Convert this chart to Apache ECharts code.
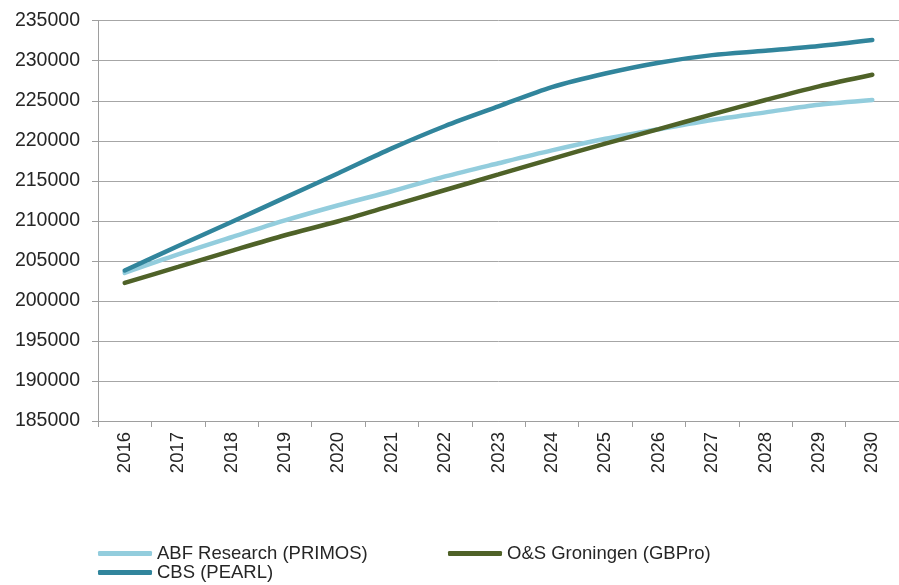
<!DOCTYPE html>
<html>
<head>
<meta charset="utf-8">
<script src="https://cdn.jsdelivr.net/npm/echarts@6/dist/echarts.min.js"></script>
<style>
html,body{margin:0;padding:0;background:#fff;}
#chart{width:899px;height:585px;}
</style>
</head>
<body>
<div id="chart"></div>
<script>
var years = ['2016','2017','2018','2019','2020','2021','2022','2023','2024','2025','2026','2027','2028','2029','2030'];
var abfName = 'ABF Research (PRIMOS)';
var osName = 'O&S Groningen (GBPro)';
var cbsName = 'CBS (PEARL)';
var abfValues = [203500,205800,207950,210050,211950,213700,215550,217200,218800,220250,221450,222600,223550,224500,225100];
var osValues  = [202250,204250,206250,208200,209950,211900,213850,215800,217750,219650,221450,223300,225100,226800,228250];
var cbsValues = [203800,206850,209850,212900,215950,219050,221850,224300,226700,228400,229750,230700,231250,231850,232600];
var yMin = 185000, yMax = 235000, yStep = 5000;

var txt = '#262626';
var font = 'Liberation Sans, Arial, sans-serif';
function legendAt(name, left, top) {
  return {
    data: [name], left: left, top: top, orient: 'horizontal',
    icon: 'roundRect', itemWidth: 54, itemHeight: 5, padding: 0,
    textStyle: {color: txt, fontSize: 18.5, fontFamily: font, lineHeight: 18}
  };
}
var chart = echarts.init(document.getElementById('chart'), null, {renderer: 'canvas'});
chart.setOption({
  animation: false,
  backgroundColor: '#fff',
  color: ['#93CDDD', '#4F6228', '#31859C'],
  grid: {left: 98, top: 20.7, width: 803.3, bottom: 164},
  legend: [legendAt(abfName, 98, 544), legendAt(osName, 448, 544), legendAt(cbsName, 98, 563)],
  xAxis: {
    type: 'category', data: years, boundaryGap: true,
    axisLine: {lineStyle: {color: '#9e9e9e', width: 1}},
    axisTick: {show: true, length: 6, lineStyle: {color: '#9e9e9e'}},
    axisLabel: {rotate: 90, margin: 11, color: txt, fontSize: 18.5, fontFamily: font, interval: 0},
    splitLine: {show: false}
  },
  yAxis: {
    type: 'value', min: yMin, max: yMax, interval: yStep,
    axisLine: {show: true, lineStyle: {color: '#9e9e9e', width: 1}},
    axisTick: {show: true, length: 6, lineStyle: {color: '#9e9e9e'}},
    axisLabel: {margin: 18, color: txt, fontSize: 19.5, fontFamily: font, formatter: function (v) { return String(v); }},
    splitLine: {show: true, lineStyle: {color: '#a6a6a6', width: 1}}
  },
  series: [
    {name: abfName, type: 'line', data: abfValues, smooth: 0.3, symbol: 'none', lineStyle: {width: 4.5, cap: 'round'}},
    {name: osName, type: 'line', data: osValues, smooth: 0.3, symbol: 'none', lineStyle: {width: 4.5, cap: 'round'}},
    {name: cbsName, type: 'line', data: cbsValues, smooth: 0.3, symbol: 'none', lineStyle: {width: 4.5, cap: 'round'}}
  ]
});
</script>
</body>
</html>
